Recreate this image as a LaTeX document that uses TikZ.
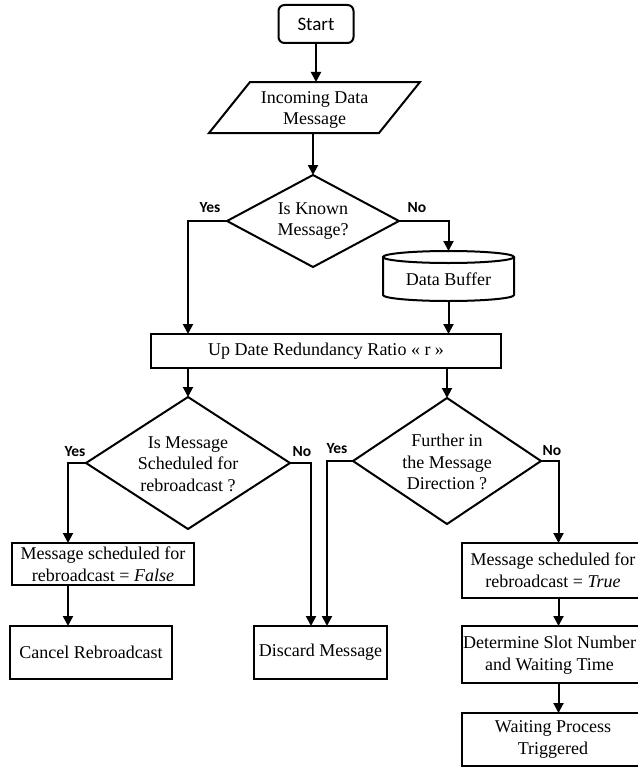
\documentclass[tikz,border=0pt]{standalone}
\usepackage{fontspec}
\setmainfont{Liberation Serif}
\newfontfamily\calib{Carlito}
\usetikzlibrary{arrows.meta,shapes.geometric,calc}
\begin{document}
\begin{tikzpicture}[x=1pt,y=-1pt,
  font=\fontsize{18}{21.5}\selectfont,
  every node/.style={inner sep=0pt, outer sep=0pt},
  shp/.style={draw, line width=2pt},
  arr/.style={line width=2pt, -{Triangle[length=10pt,width=10pt]}},
  lbl/.style={font=\calib\bfseries\fontsize{15.5}{18}\selectfont},
  txt/.style={align=center}]
\useasboundingbox (0,0) rectangle (637,768);

% Start
\node[shp, rounded corners=6pt, minimum width=75pt, minimum height=38pt,
      font=\calib\fontsize{19}{22}\selectfont] (start) at (316,24) {Start};

% Incoming data (parallelogram)
\node[minimum width=211pt, minimum height=51pt] (inc) at (314.5,107.5) {};
\node[txt] (inct) at (314.5,110) {Incoming Data\\Message};
\draw[shp] ($(inc.north west)+(41,0)$) -- (inc.north east) -- ($(inc.south east)+(-41,0)$) -- (inc.south west) -- cycle;

% Decision 1
\node[shp, diamond, minimum width=172pt, minimum height=92pt] (d1) at (313,221) {};
\node[txt] (d1t) at (313,221) {Is Known\\Message?};

% Data buffer (cylinder)
\node[minimum width=131pt, minimum height=50pt] (buf) at (448.5,276) {};
\node (buft) at (448.5,279) {Data Buffer};
\draw[shp] ($(buf.north)+(0,6)$) ellipse [x radius=65.5, y radius=6];
\draw[shp] ($(buf.north west)+(0,6)$) -- ($(buf.south west)+(0,-6)$) arc[start angle=180, end angle=0, x radius=65.5, y radius=6] -- ($(buf.north east)+(0,6)$);

% Up date
\node[shp, minimum width=350pt, minimum height=34pt] (up) at (326,351) {Up Date Redundancy Ratio « r »};

% Decision 2 and 3
\node[shp, diamond, minimum width=204pt, minimum height=132pt] (d2) at (188,463) {};
\node[txt] (d2t) at (188,464) {Is Message\\Scheduled for\\rebroadcast ?};
\node[shp, diamond, minimum width=188pt, minimum height=126pt] (d3) at (447,461) {};
\node[txt] (d3t) at (447,462) {Further in\\the Message\\Direction ?};

% Boxes
\node[shp, txt, minimum width=182pt, minimum height=42pt] (fal) at (103,564) {Message scheduled for\\rebroadcast = \textit{False}};
\node[shp, minimum width=162pt, minimum height=53pt] (can) at (91,652.5) {Cancel Rebroadcast};
\node[shp, minimum width=133pt, minimum height=53pt] (dis) at (320.5,652.5) {Discard Message};
\node[shp, txt, minimum width=182pt, minimum height=55pt] (tru) at (553,570.5) {Message scheduled for\\rebroadcast = \textit{True}};
\node[shp, minimum width=182pt, minimum height=57pt] (det) at (553,654.5) {};
\node[txt] (dett) at (549.5,655) {Determine Slot Number\\and Waiting Time};
\node[shp, txt, minimum width=182pt, minimum height=53pt] (wai) at (553,739.5) {Waiting Process\\Triggered};

% Connectors
\draw[arr] (start.south) -- (start.south |- inc.north);
\draw[arr] (d1.north |- inc.south) -- (d1.north);
\draw[arr] (d1.west) -| (d2.north |- up.north);
\draw[arr] (d1.east) -| (buf.north);
\draw[arr] (buf.south) -- (buf.south |- up.north);
\draw[arr] (d2.north |- up.south) -- (d2.north);
\draw[arr] (d3.north |- up.south) -- (d3.north);
\draw[arr] (d2.west) -| ([xshift=-35pt]fal.north);
\draw[arr] ([xshift=-35pt]fal.south) -- ([xshift=-35pt]fal.south |- can.north);
\draw[arr] (d2.east) -| ([xshift=-9.5pt]dis.north);
\draw[arr] (d3.west) -| ([xshift=6.5pt]dis.north);
\draw[arr] (d3.east) -| ([xshift=5.5pt]tru.north);
\draw[arr] ([xshift=5.5pt]tru.south) -- ([xshift=5.5pt]det.north);
\draw[arr] ([xshift=5.5pt]det.south) -- ([xshift=5.5pt]wai.north);

% Labels
\node[lbl] (y1) at (210,208) {Yes};
\node[lbl] (n1) at (417,208) {No};
\node[lbl] (y2) at (75,452) {Yes};
\node[lbl] (n2) at (302,452) {No};
\node[lbl] (y3) at (337,449) {Yes};
\node[lbl] (n3) at (552,451) {No};
\end{tikzpicture}
\end{document}
